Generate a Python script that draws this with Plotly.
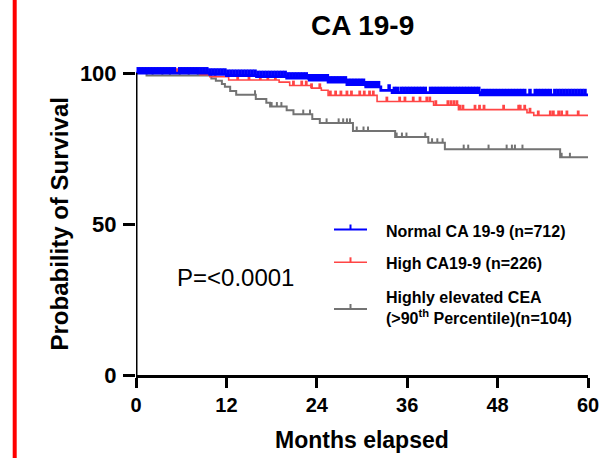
import numpy as np
import plotly.graph_objects as go

# ---------------- data ----------------
month_ticks = [0, 12, 24, 36, 48, 60]
surv_ticks = [0, 50, 100]

series_names = ["Normal CA 19-9 (n=712)", "High CA19-9 (n=226)",
                "Highly elevated CEA<br>(>90<sup>th</sup> Percentile)(n=104)"]

normal_t = [0, 9.8, 12.0, 16.0, 20.0, 23.0, 25.5, 28.0, 30.5, 32.5, 34.0, 45.7]
normal_s = [100, 99.6, 99.2, 98.8, 98.3, 97.7, 97.0, 96.2, 95.4, 94.3, 93.5, 92.8]
normal_cens = [0.3, 0.7, 1.1, 1.5, 1.9, 2.3, 2.7, 3.1, 3.5, 3.9, 4.3, 4.7, 5.1,
               5.8, 6.2, 6.6, 7.0, 7.4, 7.8, 8.2, 8.6, 9.0, 9.4, 9.8, 10.2, 10.6,
               11.0, 11.4, 11.8, 12.2, 12.6, 13.0, 13.4, 13.8, 14.2, 14.6, 15.0,
               15.4, 15.8, 16.2, 16.6, 17.0, 17.4, 17.8, 18.2, 18.6, 19.0, 19.4,
               19.8, 20.2, 20.6, 21.0, 21.4, 21.8, 22.2, 22.6, 23.0, 23.4, 23.8,
               24.2, 24.6, 25.0, 25.4, 25.8, 26.2, 26.6, 27.0, 27.4, 27.8, 28.2,
               28.6, 29.0, 29.4, 29.8, 30.2, 30.6, 31.0, 31.4, 31.8, 32.2,
               33.6, 34.3, 34.7, 35.2, 35.6, 36.0, 36.4, 36.8, 37.2, 37.6, 38.0,
               38.4, 39.1, 39.5, 39.9, 40.3, 40.7, 41.1, 41.5, 41.9, 42.3, 42.7,
               43.1, 43.5, 43.9, 44.3, 44.7, 45.1, 45.5, 46.0, 46.4, 46.8, 47.2,
               47.6, 48.0, 48.4, 48.8, 49.2, 49.6, 50.0, 50.4, 50.8, 51.2, 51.6,
               52.3, 53.0, 53.4, 53.8, 54.2, 54.6, 55.0, 55.6, 56.0, 56.4, 56.8,
               57.2, 57.6, 58.0, 58.4, 58.8, 59.2, 59.6]

high_t = [0, 8.5, 9.8, 12.3, 19.0, 20.4, 23.3, 24.6, 25.5, 32.0, 39.5, 42.8, 51.9, 52.8]
high_s = [100, 99.5, 98.8, 97.7, 97.0, 95.9, 95.0, 94.3, 92.6, 90.6, 89.4, 87.9, 86.9, 86.0]
high_cens = [1.0, 2.5, 4.0, 5.5, 7.0, 8.0, 9.0, 10.5, 13.5, 15.0, 16.5, 17.5, 18.5,
             20.9, 22.0, 22.6, 23.3, 24.4, 25.8, 26.5, 27.2, 28.0, 28.6, 29.7,
             30.3, 31.0, 31.5, 33.3, 35.0, 35.7, 36.8, 37.7, 38.6, 39.0, 39.8,
             41.4, 41.8, 42.2, 42.6, 43.0, 43.4, 45.0, 45.6, 46.2, 48.8, 50.8,
             51.0, 51.6, 52.3, 53.4, 55.0, 55.4, 56.1, 56.5, 57.2, 58.7]

elev_t = [0, 1.4, 10.0, 10.6, 11.4, 11.8, 12.5, 13.3, 15.9, 17.3, 17.8, 20.0, 20.9,
          23.4, 24.4, 28.8, 34.4, 38.8, 41.0, 56.3]
elev_s = [100, 99.2, 98.2, 97.5, 96.4, 95.5, 94.1, 92.8, 91.4, 90.2, 88.9, 87.7, 86.4,
          84.8, 83.5, 80.8, 78.8, 76.9, 74.8, 72.1]
elev_cens = [2.2, 3.5, 4.5, 5.8, 7.0, 8.2, 9.2, 15.8, 18.0, 18.7, 19.3, 22.2, 23.1,
             25.3, 26.9, 27.5, 28.0, 28.4, 29.3, 30.2, 30.8, 34.6, 35.3, 35.9, 38.4,
             39.3, 40.0, 40.7, 43.5, 44.1, 46.8, 49.2, 49.9, 50.3, 51.3, 56.5, 57.6]

END_T = 60

# ---------------- styles ----------------
FONT = "Arial, Liberation Sans, sans-serif"
BLUE = "#0000ff"
RED = "#ff4545"
GRAY = "#737373"

# plot area in pixels
L, R, T, B = 136, 14, 61, 83
W, H = 602, 458
PW, PH = W - L - R, H - T - B


def px_x(px):
    return (px - L) / PW


def px_y(py):
    return (H - B - py) / PH


def step_xy(ts, ss):
    return list(ts) + [END_T], list(ss) + [ss[-1]]


def censor_xy(ts, ss, cens, h):
    ts = np.asarray(ts)
    ss = np.asarray(ss)
    xs, ys = [], []
    for c in cens:
        i = np.searchsorted(ts, c, side="right") - 1
        s = ss[i]
        xs += [c, c, None]
        ys += [s, s + h, None]
    return xs, ys


fig = go.Figure()

specs = [
    (elev_t, elev_s, elev_cens, GRAY, 2.0, 2.0, 1.5),
    (high_t, high_s, high_cens, RED, 1.6, 2.8, 1.6),
    (normal_t, normal_s, normal_cens, BLUE, 2.8, 3.5, 2.0),
]
for ts, ss, cens, col, lw, tw, th in specs:
    x, y = step_xy(ts, ss)
    fig.add_trace(go.Scatter(x=x, y=y, mode="lines",
                             line=dict(color=col, width=lw, shape="hv"),
                             showlegend=False, hoverinfo="skip"))
    cx, cy = censor_xy(ts, ss, cens, th)
    fig.add_trace(go.Scatter(x=cx, y=cy, mode="lines",
                             line=dict(color=col, width=tw),
                             showlegend=False, hoverinfo="skip"))

shapes = []
# y axis line (0 to 100)
shapes.append(dict(type="line", xref="x", yref="y", x0=0, x1=0, y0=0, y1=100,
                   line=dict(color="black", width=3)))
# red vertical frame line at left edge
shapes.append(dict(type="line", xref="paper", yref="paper",
                   x0=px_x(14.7), x1=px_x(14.7), y0=px_y(H), y1=px_y(0),
                   line=dict(color="#ff0000", width=4)))

# legend (manual)
leg_rows = [(229.5, BLUE, 2.0, 231, series_names[0]),
            (262.3, RED, 1.6, 263, series_names[1]),
            (309.0, GRAY, 2.0, 307.5, series_names[2])]
annotations = []
for ly, col, lw, ty, name in leg_rows:
    shapes.append(dict(type="line", xref="paper", yref="paper",
                       x0=px_x(334), x1=px_x(367), y0=px_y(ly), y1=px_y(ly),
                       line=dict(color=col, width=lw)))
    shapes.append(dict(type="line", xref="paper", yref="paper",
                       x0=px_x(350.5), x1=px_x(350.5), y0=px_y(ly), y1=px_y(ly - 5),
                       line=dict(color=col, width=2)))
    annotations.append(dict(xref="paper", yref="paper", x=px_x(384), y=px_y(ty),
                            xanchor="left", yanchor="middle", align="left",
                            text=name, showarrow=False,
                            font=dict(family=FONT, size=16, color="black", weight="bold")))

annotations += [
    dict(xref="paper", yref="paper", x=px_x(362), y=px_y(26), text="CA 19-9",
         showarrow=False, xanchor="center", yanchor="middle",
         font=dict(family=FONT, size=28, color="black", weight="bold")),
    dict(xref="paper", yref="paper", x=px_x(362), y=px_y(440), text="Months elapsed",
         showarrow=False, xanchor="center", yanchor="middle",
         font=dict(family=FONT, size=23, color="black", weight="bold")),
    dict(xref="paper", yref="paper", x=px_x(59), y=px_y(224.5),
         text="Probability of Survival", textangle=-90,
         showarrow=False, xanchor="center", yanchor="middle",
         font=dict(family=FONT, size=24, color="black", weight="bold")),
    dict(xref="paper", yref="paper", x=px_x(235.5), y=px_y(277),
         text="P=<0.0001", showarrow=False, xanchor="center", yanchor="middle",
         font=dict(family=FONT, size=24, color="black")),
]

fig.update_layout(
    width=W, height=H,
    margin=dict(l=L, r=R, t=T, b=B, pad=0, autoexpand=False),
    paper_bgcolor="white", plot_bgcolor="white",
    shapes=shapes, annotations=annotations,
    showlegend=False,
    xaxis=dict(range=[0, 60], tickvals=month_ticks, ticktext=[str(v) for v in month_ticks],
               showgrid=False, zeroline=False, showline=True, linecolor="black", linewidth=3,
               ticks="outside", ticklen=10, tickwidth=3, tickcolor="black",
               tickfont=dict(family=FONT, size=20, color="black", weight="bold"),
               ticklabelstandoff=0, automargin=False, fixedrange=True),
    yaxis=dict(range=[0, 104], tickvals=surv_ticks, ticktext=[str(v) for v in surv_ticks],
               showgrid=False, zeroline=False, showline=False,
               ticks="outside", ticklen=12, tickwidth=3, tickcolor="black",
               tickfont=dict(family=FONT, size=22, color="black", weight="bold"),
               ticklabelstandoff=2, automargin=False, fixedrange=True),
)

fig.write_html("out.html")
